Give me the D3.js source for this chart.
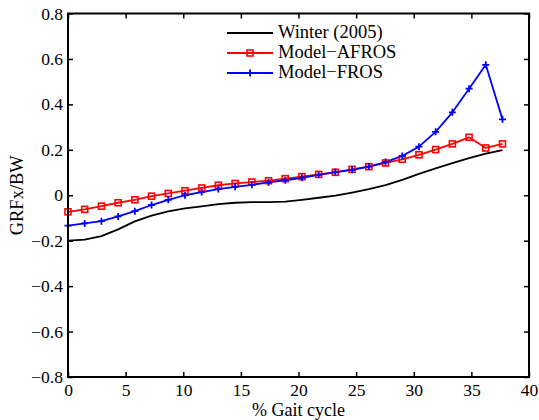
<!DOCTYPE html>
<html><head><meta charset="utf-8">
<script src="https://cdn.jsdelivr.net/npm/d3@7"></script>
<style>body{margin:0;background:#fff}svg{display:block}text{font-family:"Liberation Serif","Times New Roman",serif;fill:#000}</style>
</head><body><svg id="c" width="539" height="420"></svg>
<script>
const gait = [0, 1.45, 2.9, 4.35, 5.8, 7.25, 8.7, 10.15, 11.6, 13.05, 14.5, 15.95, 17.4, 18.85, 20.3, 21.75, 23.2, 24.65, 26.1, 27.55, 29.0, 30.45, 31.9, 33.35, 34.8, 36.25, 37.7];
const winter = [-0.200, -0.195, -0.180, -0.150, -0.115, -0.090, -0.071, -0.058, -0.049, -0.039, -0.033, -0.030, -0.030, -0.028, -0.020, -0.011, -0.002, 0.012, 0.027, 0.045, 0.068, 0.094, 0.118, 0.141, 0.163, 0.183, 0.199];
const afros = [-0.073, -0.062, -0.048, -0.033, -0.020, -0.004, 0.008, 0.020, 0.032, 0.044, 0.052, 0.058, 0.064, 0.073, 0.082, 0.092, 0.101, 0.114, 0.126, 0.142, 0.158, 0.178, 0.201, 0.226, 0.255, 0.208, 0.226];
const fros = [-0.134, -0.124, -0.114, -0.093, -0.070, -0.043, -0.020, 0.000, 0.014, 0.027, 0.037, 0.046, 0.057, 0.066, 0.077, 0.090, 0.102, 0.112, 0.126, 0.146, 0.173, 0.214, 0.279, 0.365, 0.469, 0.574, 0.334];
const xTicks = [0, 5, 10, 15, 20, 25, 30, 35, 40];
const yTicks = [-0.8, -0.6, -0.4, -0.2, 0, 0.2, 0.4, 0.6, 0.8];
const seriesNames = ["Winter (2005)", "Model\u2212AFROS", "Model\u2212FROS"];
const seriesColors = ["#000000", "#ff0000", "#0000ff"];
const seriesMarkers = ["none", "square", "plus"];

const L = 68, R = 529, T = 13.5, B = 377;
const svg = d3.select("#c");
const x = d3.scaleLinear().domain([0, 40]).range([L, R]);
const y = d3.scaleLinear().domain([-0.8, 0.8]).range([B, T]);
const fmt = v => v === 0 ? "0" : (v < 0 ? "\u2212" : "") + Math.abs(v).toFixed(1);

const series = [winter, afros, fros];
const line = d3.line().x((d, i) => x(gait[i])).y(d => y(d));
const g = svg.append("g");
series.forEach((s, k) => {
  g.append("path").datum(s).attr("d", line).attr("fill", "none")
   .attr("stroke", seriesColors[k]).attr("stroke-width", 1.8).attr("stroke-linejoin", "round");
});
function marker(sel, type, color) {
  if (type === "square") {
    sel.append("rect").attr("x", -3).attr("y", -3).attr("width", 6).attr("height", 6)
      .attr("fill", "none").attr("stroke", color).attr("stroke-width", 1.6);
  } else if (type === "plus") {
    sel.append("path").attr("d", "M-3.5,0H3.5M0,-3.5V3.5").attr("stroke", color).attr("stroke-width", 1.8);
  }
}
series.forEach((s, k) => {
  if (seriesMarkers[k] === "none") return;
  s.forEach((d, i) => {
    const m = g.append("g").attr("transform", `translate(${x(gait[i])},${y(d)})`);
    marker(m, seriesMarkers[k], seriesColors[k]);
  });
});

// axes box
const ax = svg.append("g");
const xb = d3.axisBottom(x).tickValues(xTicks).tickSize(-5).tickPadding(7).tickFormat(d => d);
const xt = d3.axisTop(x).tickValues(xTicks).tickSize(-5).tickFormat("");
const yl = d3.axisLeft(y).tickValues(yTicks).tickSize(-5).tickPadding(5).tickFormat(fmt);
const yr = d3.axisRight(y).tickValues(yTicks).tickSize(-5).tickFormat("");
[[xb, `translate(0,${B})`], [xt, `translate(0,${T})`], [yl, `translate(${L},0)`], [yr, `translate(${R},0)`]].forEach(([a, tr]) => {
  const gg = ax.append("g").attr("transform", tr).call(a);
  gg.select(".domain").remove();
  gg.selectAll("line").attr("stroke", "#000").attr("stroke-width", 1.5);
  gg.selectAll("text").attr("font-family", null).style("font-family", '"Liberation Serif","Times New Roman",serif').style("font-size", "17.5px").attr("fill", "#000");
});
ax.selectAll("g").attr("font-family", null);
ax.append("rect").attr("x", L).attr("y", T).attr("width", R - L).attr("height", B - T)
  .attr("fill", "none").attr("stroke", "#000").attr("stroke-width", 2);

// labels
svg.append("text").attr("x", (L + R) / 2).attr("y", 415.5).attr("text-anchor", "middle").style("font-size", "18px").text("% Gait cycle");
svg.append("text").attr("transform", `translate(23,${(T + B) / 2}) rotate(-90)`).attr("text-anchor", "middle").style("font-size", "18.5px").text("GRFx/BW");

// legend
const lg = svg.append("g");
seriesNames.forEach((n, k) => {
  const yy = 33 + k * 20;
  lg.append("line").attr("x1", 227).attr("x2", 273).attr("y1", yy).attr("y2", yy).attr("stroke", seriesColors[k]).attr("stroke-width", 1.8);
  marker(lg.append("g").attr("transform", `translate(250,${yy})`), seriesMarkers[k], seriesColors[k]);
  lg.append("text").attr("x", 278).attr("y", yy + 5).style("font-size", "18.5px").text(n);
});
</script></body></html>
